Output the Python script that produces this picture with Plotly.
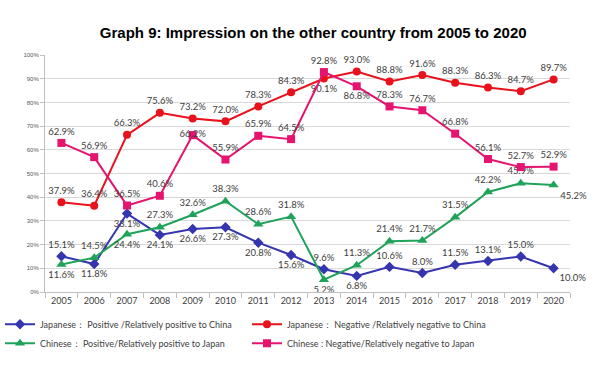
import plotly.graph_objects as go

years = [str(y) for y in range(2005, 2021)]
jp_pos = [15.1, 11.8, 33.1, 24.1, 26.6, 27.3, 20.8, 15.6, 9.6, 6.8, 10.6, 8.0, 11.5, 13.1, 15.0, 10.0]
jp_neg = [37.9, 36.4, 66.3, 75.6, 73.2, 72.0, 78.3, 84.3, 90.1, 93.0, 88.8, 91.6, 88.3, 86.3, 84.7, 89.7]
cn_pos = [11.6, 14.5, 24.4, 27.3, 32.6, 38.3, 28.6, 31.8, 5.2, 11.3, 21.4, 21.7, 31.5, 42.2, 45.9, 45.2]
cn_neg = [62.9, 56.9, 36.5, 40.6, 66.2, 55.9, 65.9, 64.5, 92.8, 86.8, 78.3, 76.7, 66.8, 56.1, 52.7, 52.9]

names = [
    "Japanese\uff1a Positive /Relatively positive to China",
    "Japanese\uff1a Negative /Relatively negative to China",
    "Chinese\uff1a Positive/Relatively positive to Japan",
    "Chinese : Negative/Relatively negative to Japan",
]

T, B, BR = "top center", "bottom center", "bottom right"
pos_jp_pos = [T, B, B, B, B, B, B, B, T, B, T, T, T, T, T, BR]
pos_jp_neg = [T, T, T, T, T, T, T, T, B, T, T, T, T, T, T, T]
pos_cn_pos = [B, T, B, T, T, T, T, T, B, T, T, T, T, T, T, BR]
pos_cn_neg = [T, T, T, T, "middle center", T, T, T, T, B, T, T, T, T, T, T]

series = [
    (jp_pos, names[0], "#3535b0", "diamond", 8, pos_jp_pos),
    (jp_neg, names[1], "#e8111c", "circle", 8, pos_jp_neg),
    (cn_pos, names[2], "#1fa35a", "triangle-up", 9, pos_cn_pos),
    (cn_neg, names[3], "#e5146e", "square", 8, pos_cn_neg),
]

fig = go.Figure()
for vals, name, color, sym, size, tpos in series:
    fig.add_trace(go.Scatter(
        x=years, y=vals, name=name, mode="lines+markers+text",
        line=dict(color=color, width=2),
        marker=dict(color=color, symbol=sym, size=size),
        text=[f"{v:.1f}%" for v in vals],
        textposition=tpos,
        textfont=dict(size=9.5, color="#404040", family="Lato, Liberation Sans, Arial"),
        cliponaxis=False,
    ))

fig.update_layout(
    width=600, height=370,
    margin=dict(l=45, r=30, t=55, b=78, autoexpand=False),
    paper_bgcolor="white", plot_bgcolor="white",
    title=dict(text="<b>Graph 9: Impression on the other country from 2005 to 2020</b>",
               x=0.522, xanchor="center", y=1 - 33 / 370, yanchor="middle", yref="container",
               font=dict(size=15, color="black", family="Liberation Sans, Arial")),
    font=dict(family="Liberation Sans, Arial", color="#404040"),
    showlegend=True,
    legend=dict(orientation="h", xref="container", x=-0.005, xanchor="left",
                y=-0.075, yanchor="top",
                entrywidth=202, entrywidthmode="pixels", itemwidth=30,
                font=dict(size=9, color="#404040", family="Lato, Liberation Sans, Arial"),
                tracegroupgap=0, traceorder="normal"),
)
fig.update_xaxes(type="category", range=[-0.5, 15.5], showgrid=False,
                 showline=True, linecolor="#bfbfbf", linewidth=1,
                 ticks="outside", tickson="boundaries", ticklen=5, tickcolor="#bfbfbf",
                 tickfont=dict(size=9, color="#404040", family="Lato, Liberation Sans, Arial"))
fig.update_yaxes(range=[0, 100], dtick=10, ticksuffix="%", showgrid=True, gridcolor="#d9d9d9",
                 showline=True, linecolor="#bfbfbf", linewidth=1, zeroline=False,
                 ticks="outside", ticklen=4, tickcolor="#bfbfbf",
                 tickfont=dict(size=6, color="#595959"))

fig.write_html("out.html", config={"displayModeBar": False},
               post_script="document.body.style.margin='0';")
